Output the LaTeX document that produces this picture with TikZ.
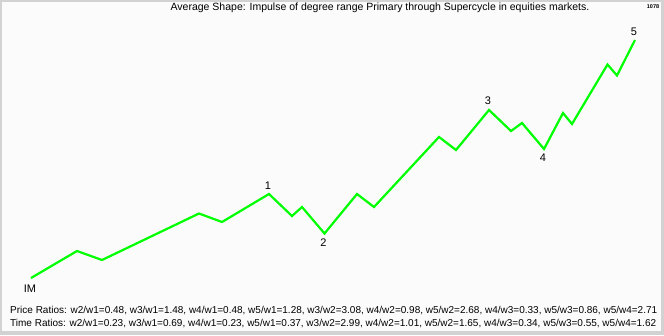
\documentclass[tikz,border=0pt]{standalone}
\usepackage{fontspec}
\setmainfont{Liberation Sans}
\begin{document}
\begin{tikzpicture}[x=1pt,y=-1pt,
  wave/.style={draw=green!90!lime,line width=2.2pt,line join=miter},
  lbl/.style={font=\fontsize{11}{12}\selectfont,inner sep=0pt},
  ratio/.style={font=\fontsize{8.6}{10}\selectfont,inner sep=0pt,anchor=west}]
\useasboundingbox (0,0) rectangle (664,335);
\fill[gray!35] (0,0) rectangle (664,335);
\fill[white!97!gray] (2,2) rectangle (661,331);
\node[font=\fontsize{10.5}{12}\selectfont,inner sep=0pt] (title) at (380,8) {Average Shape: Impulse of degree range Primary through Supercycle in equities markets.};
\node[font=\fontsize{5.5}{6}\selectfont\bfseries,inner sep=0pt] (num) at (653,7) {1078};
\draw[wave,draw={rgb,255:red,0;green,255;blue,0}] (31,278) coordinate (im) -- (77,251) -- (102,260) -- (199,213.5) -- (222,222) -- (269,194) coordinate (w1) -- (292,216) -- (302,207) -- (324.5,233.5) coordinate (w2) -- (357,194) -- (374,207) -- (439,137) -- (456,150) -- (489,110) coordinate (w3) -- (511,131) -- (522,123) -- (544,149) coordinate (w4) -- (563,113) -- (572,124) -- (607.5,64.5) -- (617,75.5) -- (635,40) coordinate (w5);
\node[lbl] (lim) at (30,288.5) {IM};
\node[lbl] (l1) at (268,185.5) {1};
\node[lbl] (l2) at (323.5,243) {2};
\node[lbl] (l3) at (488,100.5) {3};
\node[lbl] (l4) at (543,158) {4};
\node[lbl] (l5) at (634,31.5) {5};
\node[ratio] (pr) at (10,310.5) {\resizebox{647pt}{!}{Price Ratios: w2/w1=0.48, w3/w1=1.48, w4/w1=0.48, w5/w1=1.28, w3/w2=3.08, w4/w2=0.98, w5/w2=2.68, w4/w3=0.33, w5/w3=0.86, w5/w4=2.71}};
\node[ratio] (tr) at (10,323.5) {\resizebox{646pt}{!}{Time Ratios: w2/w1=0.23, w3/w1=0.69, w4/w1=0.23, w5/w1=0.37, w3/w2=2.99, w4/w2=1.01, w5/w2=1.65, w4/w3=0.34, w5/w3=0.55, w5/w4=1.62}};
\end{tikzpicture}
\end{document}
